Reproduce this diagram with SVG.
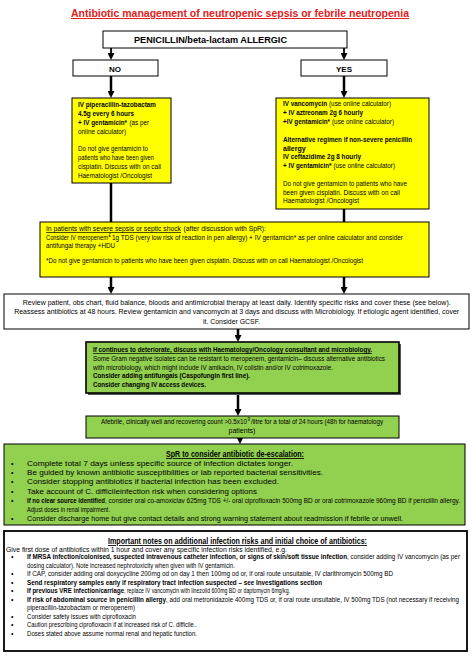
<svg xmlns="http://www.w3.org/2000/svg" width="473" height="659" viewBox="0 0 473 659">
<style>
text{font-family:"Liberation Sans",Arial,sans-serif;font-size:7px;fill:#000}
.b{font-weight:bold}
.u{text-decoration:underline}
.h{font-size:8.5px;font-weight:bold}
.sup{font-size:4.5px}
.y{fill:#ffff00;stroke:#000;stroke-width:1}
.g{fill:#92d050;stroke:#000;stroke-width:1}
.w{fill:#fff;stroke:#000;stroke-width:1}
.c{stroke:#000;stroke-width:2.5;fill:none}
.cn{stroke:#000;stroke-width:1.8;fill:none}
</style>
<defs>
<marker id="ah" viewBox="0 0 10 10" refX="4" refY="5" markerWidth="7" markerHeight="7" markerUnits="userSpaceOnUse" orient="auto"><path d="M0,0L10,5L0,10z" fill="#000"/></marker>
</defs>
<rect width="473" height="659" fill="#fff"/>
<text x="240" y="17" text-anchor="middle" textLength="338" lengthAdjust="spacingAndGlyphs" style="font-size:10px;font-weight:bold;fill:#e3201b;text-decoration:underline">Antibiotic management of neutropenic sepsis or febrile neutropenia</text>

<g id="connectors">
<line class="cn" x1="111" y1="48" x2="111" y2="55.8" marker-end="url(#ah)"/>
<line class="cn" x1="344" y1="48" x2="344" y2="55.8" marker-end="url(#ah)"/>
<line class="c" x1="111" y1="76" x2="111" y2="93.8" marker-end="url(#ah)"/>
<line class="c" x1="344" y1="76" x2="344" y2="93.8" marker-end="url(#ah)"/>
<line class="c" x1="111" y1="183" x2="111" y2="222"/>
<line class="c" x1="344" y1="209" x2="344" y2="222"/>
<line class="c" x1="111" y1="277" x2="111" y2="289.8" marker-end="url(#ah)"/>
<line class="c" x1="344" y1="277" x2="344" y2="289.8" marker-end="url(#ah)"/>
<line class="c" x1="238" y1="329" x2="238" y2="337.8" marker-end="url(#ah)"/>
<line class="c" x1="238" y1="394" x2="238" y2="411.8" marker-end="url(#ah)"/>
<line class="c" x1="240" y1="438" x2="240" y2="439.8" marker-end="url(#ah)"/>
</g>

<g id="allergic">
<rect class="w" x="103" y="31" width="244" height="17"/>
<text x="134" y="43" textLength="153" lengthAdjust="spacingAndGlyphs" style="font-size:8.5px;font-weight:bold">PENICILLIN/beta-lactam ALLERGIC</text>
</g>
<g id="no">
<rect class="w" x="73" y="60" width="85" height="16"/>
<text x="115" y="71.5" text-anchor="middle" style="font-size:8px;font-weight:bold">NO</text>
</g>
<g id="yes">
<rect class="w" x="301" y="60" width="86" height="16"/>
<text x="344" y="71.5" text-anchor="middle" style="font-size:8px;font-weight:bold">YES</text>
</g>

<g id="no-regimen">
<rect class="y" x="72" y="98" width="99" height="85"/>
<text class="b" x="78" y="107" textLength="78" lengthAdjust="spacingAndGlyphs">IV piperacillin-tazobactam</text>
<text class="b" x="78" y="116" textLength="56" lengthAdjust="spacingAndGlyphs">4.5g every 6 hours</text>
<text class="b" x="78" y="125" textLength="49" lengthAdjust="spacingAndGlyphs">+ IV gentamicin*</text>
<text x="129.5" y="125" textLength="19.5" lengthAdjust="spacingAndGlyphs">(as per</text>
<text x="78" y="134" textLength="48" lengthAdjust="spacingAndGlyphs">online calculator)</text>
<text x="78" y="151" textLength="70" lengthAdjust="spacingAndGlyphs">Do not give gentamicin to</text>
<text x="78" y="160" textLength="76" lengthAdjust="spacingAndGlyphs">patients who have been given</text>
<text x="78" y="169" textLength="83" lengthAdjust="spacingAndGlyphs">cisplatin. Discuss with on call</text>
<text x="78" y="178" textLength="74" lengthAdjust="spacingAndGlyphs">Haematologist /Oncologist</text>
</g>

<g id="yes-regimen">
<rect class="y" x="276" y="98" width="153" height="111"/>
<text class="b" x="283" y="106" textLength="44" lengthAdjust="spacingAndGlyphs">IV vancomycin</text>
<text x="329" y="106" textLength="62" lengthAdjust="spacingAndGlyphs">(use online calculator)</text>
<text class="b" x="283" y="115" textLength="80" lengthAdjust="spacingAndGlyphs">+ IV aztreonam 2g 6 hourly</text>
<text class="b" x="283" y="124" textLength="47" lengthAdjust="spacingAndGlyphs">+IV gentamicin*</text>
<text x="332" y="124" textLength="62" lengthAdjust="spacingAndGlyphs">(use online calculator)</text>
<text class="b" x="283" y="142" textLength="129" lengthAdjust="spacingAndGlyphs">Alternative regimen if non-severe penicillin</text>
<text class="b" x="283" y="150.5">allergy</text>
<text class="b" x="283" y="159" textLength="78" lengthAdjust="spacingAndGlyphs">IV ceftazidime 2g 8 hourly</text>
<text class="b" x="283" y="168" textLength="48.5" lengthAdjust="spacingAndGlyphs">+ IV gentamicin*</text>
<text x="333.5" y="168" textLength="61.5" lengthAdjust="spacingAndGlyphs">(use online calculator)</text>
<text x="283" y="186" textLength="124" lengthAdjust="spacingAndGlyphs">Do not give gentamicin to patients who have</text>
<text x="283" y="194.5" textLength="117" lengthAdjust="spacingAndGlyphs">been given cisplatin. Discuss with on call</text>
<text x="283" y="203" textLength="76" lengthAdjust="spacingAndGlyphs">Haematologist /Oncologist</text>
</g>

<g id="severe-sepsis">
<rect class="y" x="40" y="222" width="389" height="55"/>
<text class="u" x="46" y="231" textLength="135" lengthAdjust="spacingAndGlyphs">In patients with severe sepsis or septic shock</text>
<text x="183.5" y="231" textLength="82.5" lengthAdjust="spacingAndGlyphs">(after discussion with SpR):</text>
<text x="46" y="239.5" textLength="62" lengthAdjust="spacingAndGlyphs">Consider IV meropenem</text>
<text class="sup" x="108.5" y="237">£</text>
<text x="112" y="239.5" textLength="291" lengthAdjust="spacingAndGlyphs">1g TDS (very low risk of reaction in pen allergy) + IV gentamicin* as per online calculator and consider</text>
<text x="46" y="248" textLength="69" lengthAdjust="spacingAndGlyphs">antifungal therapy +HDU</text>
<text x="46" y="263" textLength="317" lengthAdjust="spacingAndGlyphs">*Do not give gentamicin to patients who have been given cisplatin. Discuss with on call Haematologist /Oncologist</text>
</g>

<g id="review">
<rect class="w" x="4" y="294" width="465" height="35"/>
<text x="236.7" y="305" text-anchor="middle" textLength="428" lengthAdjust="spacingAndGlyphs">Review patient, obs chart, fluid balance, bloods and antimicrobial therapy at least daily. Identify specific risks and cover these (see below).</text>
<text x="236.7" y="314" text-anchor="middle" textLength="445" lengthAdjust="spacingAndGlyphs">Reassess antibiotics at 48 hours. Review gentamicin and vancomycin at 3 days and discuss with Microbiology. If etiologic agent identified, cover</text>
<text x="231.5" y="324" text-anchor="middle" textLength="57" lengthAdjust="spacingAndGlyphs">it. Consider GCSF.</text>
</g>

<g id="deteriorate">
<rect x="88" y="344" width="313" height="51" fill="#555"/>
<rect class="g" x="86" y="342" width="313" height="51" style="stroke-width:1.6"/>
<text class="b u" x="93" y="352" textLength="279" lengthAdjust="spacingAndGlyphs">If continues to deteriorate, discuss with Haematology/Oncology consultant and microbiology.</text>
<text x="93" y="361" textLength="292" lengthAdjust="spacingAndGlyphs">Some Gram negative isolates can be resistant to meropenem, gentamicin– discuss alternative antibiotics</text>
<text x="93" y="369.5" textLength="240" lengthAdjust="spacingAndGlyphs">with microbiology, which might include IV amikacin, IV colistin and/or IV cotrimoxazole.</text>
<text class="b" x="93" y="378" textLength="157" lengthAdjust="spacingAndGlyphs">Consider adding antifungals (Caspofungin first line).</text>
<text class="b" x="93" y="387" textLength="113" lengthAdjust="spacingAndGlyphs">Consider changing IV access devices.</text>
</g>

<g id="afebrile">
<rect class="g" x="86" y="416" width="313" height="22"/>
<text x="101" y="423.5" textLength="146" lengthAdjust="spacingAndGlyphs">Afebrile, clinically well and recovering count &gt;0.5x10</text>
<text class="sup" x="247.5" y="421">9</text>
<text x="251" y="423.5" textLength="132" lengthAdjust="spacingAndGlyphs">/litre for a total of 24 hours (48h for haematology</text>
<text x="242" y="432.5" text-anchor="middle">patients)</text>
</g>

<g id="de-escalation">
<rect class="g" x="4" y="444" width="461" height="81"/>
<text class="h u" x="235" y="457" text-anchor="middle" textLength="138" lengthAdjust="spacingAndGlyphs">SpR to consider antibiotic de-escalation:</text>
<text x="11" y="466">•</text>
<text x="27" y="466" textLength="266" lengthAdjust="spacingAndGlyphs">Complete total 7 days unless specific source of infection dictates longer.</text>
<text x="11" y="475.2">•</text>
<text x="27" y="475.2" textLength="296" lengthAdjust="spacingAndGlyphs">Be guided by known antibiotic susceptibilities or lab reported bacterial sensitivities.</text>
<text x="11" y="484.4">•</text>
<text x="27" y="484.4" textLength="252" lengthAdjust="spacingAndGlyphs">Consider stopping antibiotics if bacterial infection has been excluded.</text>
<text x="11" y="493.6">•</text>
<text x="27" y="493.6" textLength="230" lengthAdjust="spacingAndGlyphs">Take account of C. difficileinfection risk when considering options</text>
<text x="11" y="502.8">•</text>
<text class="b" x="27" y="502.8" textLength="78" lengthAdjust="spacingAndGlyphs">If no clear source identified</text>
<text x="105" y="502.8" textLength="355" lengthAdjust="spacingAndGlyphs">, consider oral co-amoxiclav 625mg TDS +/- oral ciprofloxacin 500mg BD or oral cotrimoxazole 960mg BD if penicillin allergy.</text>
<text x="27" y="512" textLength="83" lengthAdjust="spacingAndGlyphs">Adjust doses in renal impairment.</text>
<text x="11" y="521.2">•</text>
<text x="27" y="521.2" textLength="376" lengthAdjust="spacingAndGlyphs">Consider discharge home but give contact details and strong warning statement about readmission if febrile or unwell.</text>
</g>

<g id="notes">
<rect class="w" x="4" y="531" width="463" height="120" style="stroke-width:1.8"/>
<text class="h u" x="237.5" y="544" text-anchor="middle" textLength="259" lengthAdjust="spacingAndGlyphs">Important notes on additional infection risks and initial choice of antibiotics:</text>
<text x="6" y="552" textLength="281" lengthAdjust="spacingAndGlyphs">Give first dose of antibiotics within 1 hour and cover any specific infection risks identified, e.g.</text>
<text x="11" y="559">•</text>
<text class="b" x="27" y="559" textLength="320" lengthAdjust="spacingAndGlyphs">If MRSA infection/colonised, suspected intravenous catheter infection, or signs of skin/soft tissue infection</text>
<text x="347" y="559" textLength="113" lengthAdjust="spacingAndGlyphs">, consider adding IV vancomycin (as per</text>
<text x="27" y="567.5" textLength="208" lengthAdjust="spacingAndGlyphs">dosing calculator).  Note increased nephrotoxicity when given with IV gentamicin.</text>
<text x="11" y="576">•</text>
<text x="27" y="576" textLength="366" lengthAdjust="spacingAndGlyphs">If CAP, consider adding oral doxycycline 200mg od on day 1 then 100mg od or, if oral route unsuitable, IV clarithromycin 500mg BD</text>
<text x="11" y="584.5">•</text>
<text class="b" x="27" y="584.5" textLength="295" lengthAdjust="spacingAndGlyphs">Send respiratory samples early if respiratory tract infection suspected – see Investigations section</text>
<text x="11" y="593">•</text>
<text class="b" x="27" y="593" textLength="97" lengthAdjust="spacingAndGlyphs">If previous VRE infection/carriage</text>
<text x="124" y="593" textLength="166" lengthAdjust="spacingAndGlyphs">, replace IV vancomycin with linezolid 600mg BD or daptomycin 6mg/kg.</text>
<text x="11" y="601.5">•</text>
<text class="b" x="27" y="601.5" textLength="139" lengthAdjust="spacingAndGlyphs">If risk of abdominal source in penicillin allergy</text>
<text x="166" y="601.5" textLength="293" lengthAdjust="spacingAndGlyphs">, add oral metronidazole 400mg TDS or, if oral route unsuitable, IV 500mg TDS (not necessary if receiving</text>
<text x="27" y="610" textLength="108" lengthAdjust="spacingAndGlyphs">piperacillin-tazobactam or meropenem)</text>
<text x="11" y="618.5">•</text>
<text x="27" y="618.5" textLength="109" lengthAdjust="spacingAndGlyphs">Consider safety issues with ciprofloxacin</text>
<text x="11" y="627">•</text>
<text x="27" y="627" textLength="170" lengthAdjust="spacingAndGlyphs">Caution prescribing ciprofloxacin if at increased risk of C. difficile..</text>
<text x="11" y="635.5">•</text>
<text x="27" y="635.5" textLength="170" lengthAdjust="spacingAndGlyphs">Doses stated above assume normal renal and hepatic function.</text>
</g>
</svg>
